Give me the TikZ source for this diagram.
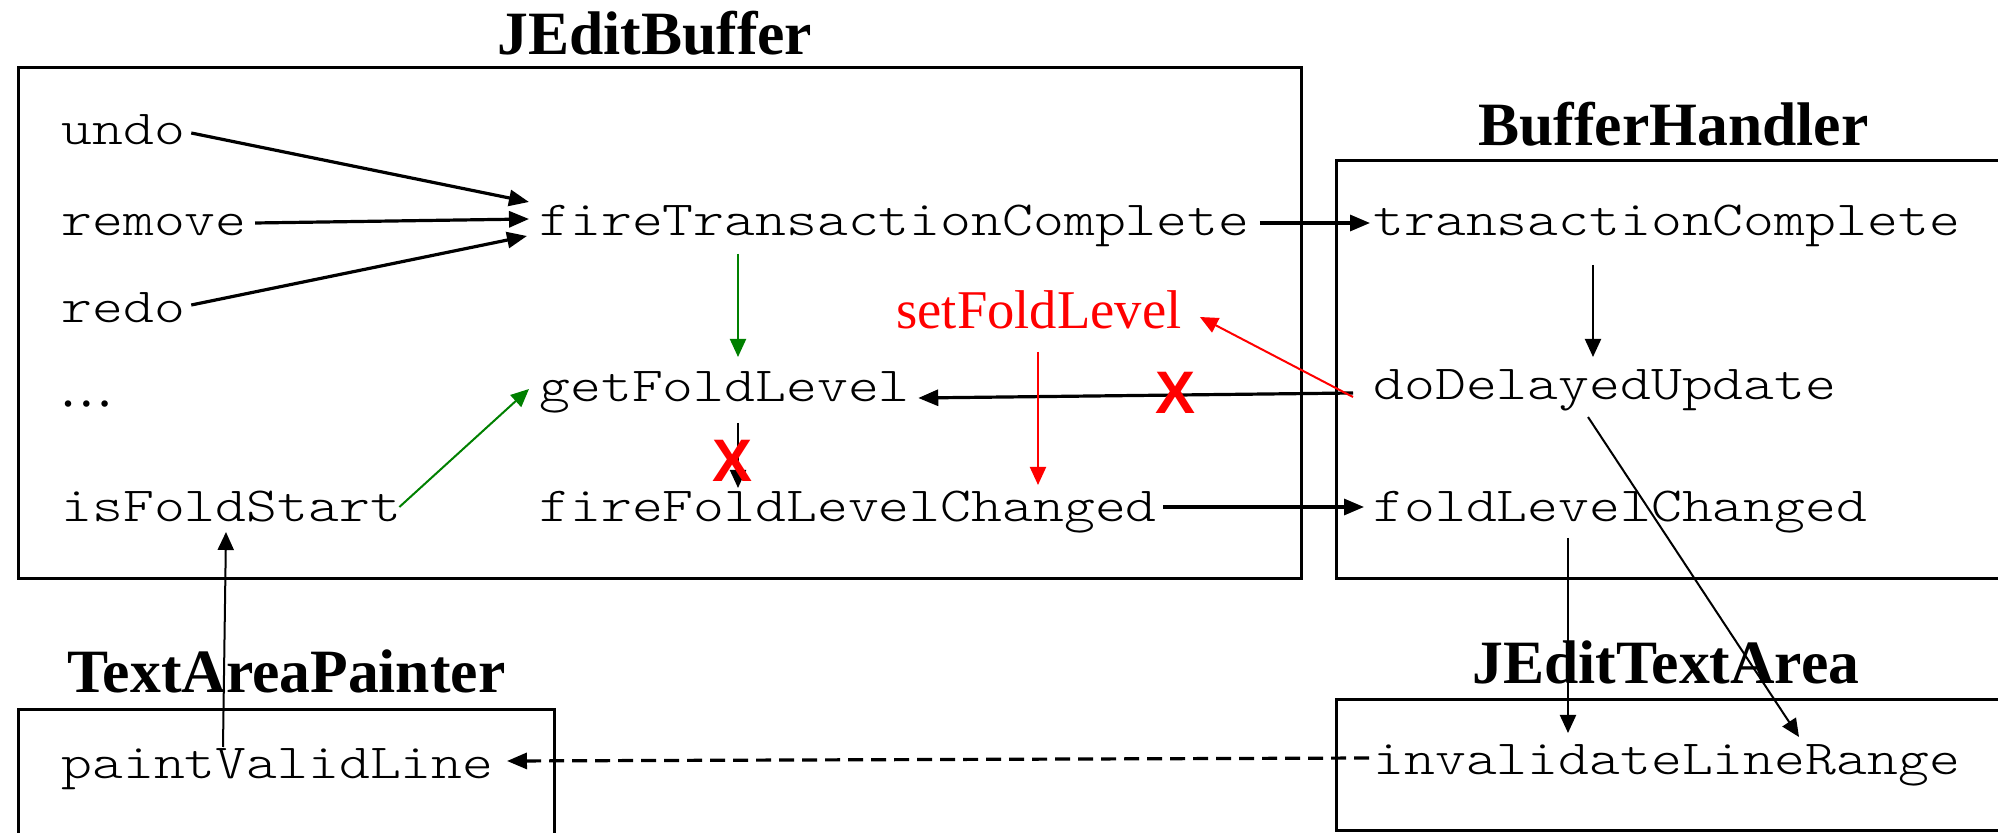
\documentclass[tikz,border=0pt]{standalone}
\usepackage{fontspec}
\setmainfont{Liberation Serif}
\newfontfamily\codefont{Latin Modern Mono Light}[FakeStretch=1.2]
\newfontfamily\xfont{Liberation Sans}
\usetikzlibrary{arrows.meta}
\definecolor{dgreen}{rgb}{0,0.5,0}
\tikzset{
  code/.style={font=\codefont\fontsize{24.5pt}{29pt}\selectfont, inner sep=0pt, anchor=base west},
  ttl/.style={font=\bfseries\fontsize{30.8pt}{36pt}\selectfont, inner sep=0pt, anchor=base west},
  redlbl/.style={font=\fontsize{27.3pt}{32pt}\selectfont, text=red, inner sep=0pt, anchor=base west},
  xmark/.style={font=\xfont\bfseries\fontsize{30pt}{36pt}\selectfont, text=red, inner sep=0pt},
  box/.style={draw, line width=1.5pt},
  arrA/.style={line width=1.6pt, -{Triangle[length=10pt,width=8pt]}},
  arrB/.style={line width=1pt, -{Triangle[length=9pt,width=8pt]}},
  garr/.style={arrB, draw=dgreen, fill=dgreen},
  rarr/.style={arrB, draw=red, fill=red},
  dasharr/.style={arrA, dash pattern=on 7.5pt off 4pt}
}
\begin{document}
\begin{tikzpicture}[x=0.5pt,y=-0.5pt]
\useasboundingbox (0,0) rectangle (1998,833);
% boxes
\draw[box] (18,68) rectangle (1301,579);
\draw[box] (1336,161) rectangle (2010,579);
\draw[box] (18,710) rectangle (554,845);
\draw[box] (1336,700) rectangle (2010,830);
% titles
\node[ttl] (tJEB) at (497,55) {JEditBuffer};
\node[ttl] (tBH) at (1478,146) {BufferHandler};
\node[ttl] (tTAP) at (67,693) {TextAreaPainter};
\node[ttl] (tJETA) at (1472,684) {JEditTextArea};
% JEditBuffer methods
\node[code] (undo) at (61,145) {undo};
\node[code] (remove) at (61,236) {remove};
\node[code] (redo) at (61,323) {redo};
\node[redlbl, text=black] (dots) at (59,407) {…};
\node[code] (isFS) at (61,522) {isFoldStart};
\node[code] (fTC) at (539,236) {fireTransactionComplete};
\node[code] (gFL) at (539,402) {getFoldLevel};
\node[code] (fFLC) at (539,522) {fireFoldLevelChanged};
\node[redlbl] (sFL) at (896,329) {setFoldLevel};
% BufferHandler methods
\node[code] (tC) at (1373,236) {transactionComplete};
\node[code] (dDU) at (1373,400) {doDelayedUpdate};
\node[code] (fLC) at (1373,522) {foldLevelChanged};
% bottom
\node[code] (iLR) at (1373,775) {invalidateLineRange};
\node[code] (pVL) at (61,778) {paintValidLine};
% connectors
\draw[arrA] ([shift={(6,-12)}]undo.base east) -- ([shift={(-10,-34)}]fTC.base west);
\draw[arrA] ([shift={(8,-13)}]remove.base east) -- ([shift={(-10,-17)}]fTC.base west);
\draw[arrA] ([shift={(6,-18)}]redo.base east) -- ([shift={(-12,0)}]fTC.base west);
\draw[arrA] ([shift={(10,-13)}]fTC.base east) -- ([shift={(-3,-13)}]tC.base west);
\draw[garr] ([shift={(199,18)}]fTC.base west) -- ([shift={(199,-45)}]gFL.base west);
\draw[garr] ([shift={(-2,-15)}]isFS.base east) -- ([shift={(-10,-13)}]gFL.base west);
\draw[arrB] ([shift={(199,21)}]gFL.base west) -- ([shift={(199,-34)}]fFLC.base west);
\node[xmark] (x1) at (733,461) {X};
\draw[arrB] ([shift={(220,29)}]tC.base west) -- ([shift={(220,-43)}]dDU.base west);
\draw[arrA] ([shift={(-20,-7)}]dDU.base west) -- ([shift={(8,-4)}]gFL.base east);
\node[xmark] (x2) at (1175,393) {X};
\draw[rarr] ([shift={(-20,-3)}]dDU.base west) -- ([shift={(18,-12)}]sFL.base east);
\draw[rarr] ([shift={(142,23)}]sFL.base west) -- ([shift={(499,-37)}]fFLC.base west);
\draw[arrA] ([shift={(6,-15)}]fFLC.base east) -- ([shift={(-9,-15)}]fLC.base west);
\draw[arrB] ([shift={(195,16)}]fLC.base west) -- ([shift={(195,-42)}]iLR.base west);
\draw[arrB] ([shift={(215,17)}]dDU.base west) -- ([shift={(426,-38)}]iLR.base west);
\draw[dasharr] ([shift={(-4,-17)}]iLR.base west) -- ([shift={(13,-17)}]pVL.base east);
\draw[arrB] ([shift={(162,-31)}]pVL.base west) -- ([shift={(165,10)}]isFS.base west);
\end{tikzpicture}
\end{document}
